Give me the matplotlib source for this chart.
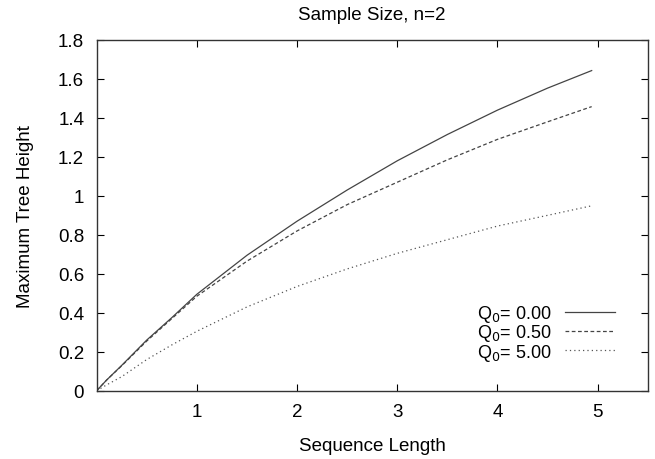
import matplotlib
matplotlib.use("Agg")
import matplotlib.pyplot as plt

plt.rcParams["font.family"] = ["Liberation Sans", "DejaVu Sans"]

# values
seq_len = [0, 0.1, 0.25, 0.5, 0.75, 1, 1.5, 2, 2.5, 3, 3.5, 4, 4.5, 4.94]
q_000 = [0, 0.055, 0.13, 0.26, 0.375, 0.495, 0.695, 0.87, 1.03, 1.18, 1.315, 1.44, 1.553, 1.643]
q_050 = [0, 0.055, 0.128, 0.255, 0.37, 0.485, 0.665, 0.82, 0.955, 1.07, 1.185, 1.29, 1.38, 1.458]
q_500 = [0, 0.03, 0.072, 0.16, 0.235, 0.305, 0.43, 0.535, 0.625, 0.705, 0.775, 0.845, 0.9, 0.949]
labels = ["Q$_0$= 0.00", "Q$_0$= 0.50", "Q$_0$= 5.00"]

fs = 13.5

fig = plt.figure(figsize=(6.55, 4.6), dpi=100)
ax = fig.add_axes([0.1476, 0.1485, 0.8414, 0.7624])

ax.plot(seq_len, q_000, color="#444444", lw=0.9, ls="-", label=labels[0])
ax.plot(seq_len, q_050, color="#444444", lw=0.9, ls=(0, (3, 2)), label=labels[1])
ax.plot(seq_len, q_500, color="#555555", lw=0.9, ls=(0, (1, 2.5)), label=labels[2])

ax.set_xlim(0, 5.5)
ax.set_ylim(0, 1.8)
ax.set_xticks([1, 2, 3, 4, 5])
ax.set_yticks([0, 0.2, 0.4, 0.6, 0.8, 1, 1.2, 1.4, 1.6, 1.8])
ax.set_yticklabels(["0", "0.2", "0.4", "0.6", "0.8", "1", "1.2", "1.4", "1.6", "1.8"])
ax.tick_params(direction="in", top=True, right=True, length=5, width=0.8,
               labelsize=fs, pad=9)
for s in ax.spines.values():
    s.set_linewidth(1.0)
    s.set_color("#333333")

ax.set_title("Sample Size, n=2", fontsize=fs, pad=15)
ax.set_xlabel("Sequence Length", fontsize=fs, labelpad=12)
ax.set_ylabel("Maximum Tree Height", fontsize=fs, labelpad=17)

ax.legend(loc="lower right", bbox_to_anchor=(0.94, 0.08), frameon=False,
          markerfirst=False, fontsize=13, handlelength=2.75,
          labelspacing=-0.1, handletextpad=0.75, borderpad=0,
          borderaxespad=0)

fig.savefig("out.png", dpi=100)
